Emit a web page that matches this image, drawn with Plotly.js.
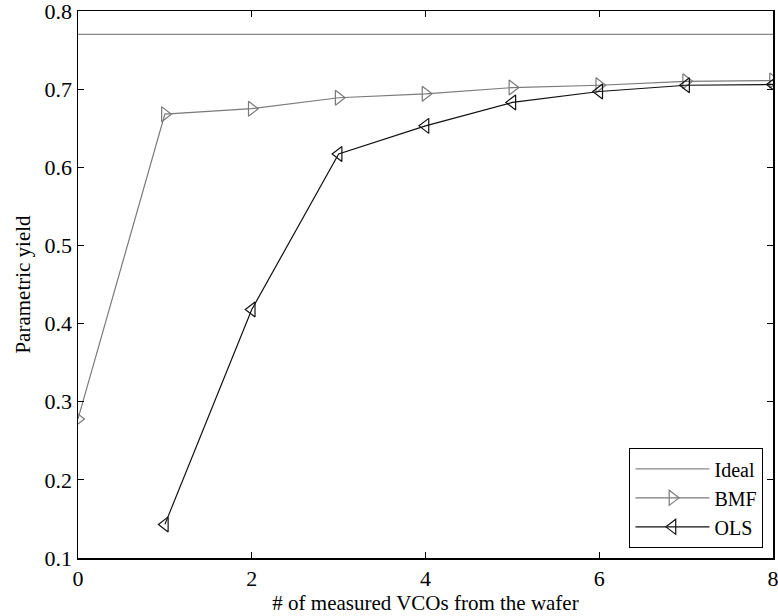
<!DOCTYPE html>
<html><head><meta charset="utf-8">
<script src="https://cdn.plot.ly/plotly-3.0.1.min.js"></script>
<style>body{margin:0;background:#fff}#c{width:778px;height:616px}</style>
</head><body><div id="c"></div>
<script>
const xIdeal = [0, 8];
const yIdeal = [0.770, 0.770];
const xBMF = [0, 1, 2, 3, 4, 5, 6, 7, 8];
const yBMF = [0.278, 0.668, 0.675, 0.689, 0.694, 0.702, 0.705, 0.710, 0.711];
const xOLS = [1, 2, 3, 4, 5, 6, 7, 8];
const yOLS = [0.143, 0.418, 0.617, 0.653, 0.683, 0.697, 0.705, 0.706];
const xTicks = [0, 2, 4, 6, 8];
const yTicks = [0.1, 0.2, 0.3, 0.4, 0.5, 0.6, 0.7, 0.8];

const traces = [
  {x: xIdeal, y: yIdeal, name: 'Ideal', mode: 'lines', line: {color: '#888888', width: 1.2}},
  {x: xBMF, y: yBMF, name: 'BMF', mode: 'lines+markers', line: {color: '#7a7a7a', width: 1.2},
   marker: {symbol: 'triangle-right-open', size: 13, color: '#7a7a7a', line: {width: 1.2}}},
  {x: xOLS, y: yOLS, name: 'OLS', mode: 'lines+markers', line: {color: '#111111', width: 1.2},
   marker: {symbol: 'triangle-left-open', size: 13, color: '#111111', line: {width: 1.2}}}
];
const font = {family: '"Liberation Serif", serif', size: 22, color: '#000'};
const titleFont = {family: '"Liberation Serif", serif', size: 21, color: '#000'};
const axisCommon = {showgrid: false, zeroline: false, showline: true, linecolor: '#000', linewidth: 1.5,
  mirror: 'ticks', ticks: 'inside', ticklen: 6, tickcolor: '#000', tickfont: font, ticklabeloverflow: 'allow'};
const layout = {
  width: 778, height: 616,
  margin: {l: 78, r: 5, t: 11, b: 58},
  paper_bgcolor: '#fff', plot_bgcolor: '#fff',
  font: font,
  showlegend: true,
  xaxis: Object.assign({}, axisCommon, {range: [0, 8], tickvals: xTicks, ticktext: xTicks.map(String),
    title: {text: '# of measured VCOs from the wafer', font: titleFont, standoff: 0}}),
  yaxis: Object.assign({}, axisCommon, {range: [0.1, 0.8], tickvals: yTicks, ticktext: yTicks.map(v => v.toFixed(1)),
    title: {text: 'Parametric yield', font: titleFont, standoff: 8}}),
  legend: {x: 0.986, y: 0.018, xanchor: 'right', yanchor: 'bottom', bordercolor: '#000', borderwidth: 1.2,
    bgcolor: '#fff', font: {family: font.family, size: 20, color: '#000'}, tracegroupgap: 0, itemwidth: 74}
};
Plotly.newPlot('c', traces, layout, {displayModeBar: false, staticPlot: true});
</script></body></html>
